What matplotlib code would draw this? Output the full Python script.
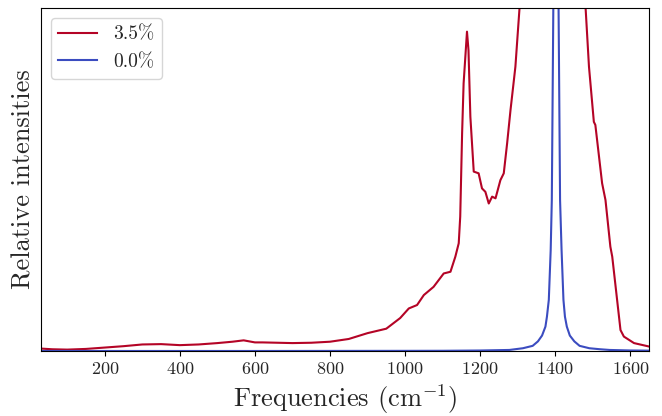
import matplotlib
matplotlib.use("Agg")
import matplotlib.pyplot as plt

plt.rcParams['font.family'] = ['cmr10', 'DejaVu Serif']
plt.rcParams['mathtext.fontset'] = 'cm'
plt.rcParams['axes.formatter.use_mathtext'] = True

# Red series (3.5%)
red_freq = [30, 60, 100, 150, 200, 250, 300, 350, 400, 450, 500, 540, 570, 600, 620,
            700, 750, 800, 850, 900, 950, 987, 1010, 1032, 1050, 1076, 1094, 1103,
            1121, 1134, 1143, 1147, 1152, 1156, 1165, 1169, 1174, 1183, 1196, 1205,
            1214, 1223, 1232, 1241, 1254, 1263, 1272, 1281, 1290, 1294, 1299, 1305,
            1330, 1360, 1400, 1440, 1470, 1481, 1490, 1503, 1507, 1525, 1534, 1547,
            1552, 1574, 1583, 1610, 1650]
red_vals = [0.007, 0.005, 0.004, 0.006, 0.010, 0.014, 0.019, 0.020, 0.017, 0.019,
            0.023, 0.027, 0.031, 0.025, 0.025, 0.023, 0.024, 0.027, 0.035, 0.052,
            0.065, 0.096, 0.124, 0.134, 0.163, 0.187, 0.213, 0.226, 0.231, 0.275,
            0.314, 0.392, 0.635, 0.780, 0.931, 0.877, 0.683, 0.523, 0.518, 0.474,
            0.464, 0.430, 0.450, 0.445, 0.498, 0.518, 0.606, 0.703, 0.790, 0.829,
            0.907, 1.000, 1.35, 1.85, 2.20, 1.85, 1.20, 1.000, 0.829, 0.668, 0.659,
            0.489, 0.440, 0.304, 0.275, 0.061, 0.042, 0.023, 0.013]

# Blue series (0.0%)
blue_freq = [30, 200, 400, 600, 800, 1000, 1100, 1200, 1278, 1314, 1340, 1354, 1365,
             1374, 1378, 1383, 1388, 1391, 1395, 1398, 1402, 1406, 1409, 1413, 1417,
             1422, 1426, 1431, 1439, 1451, 1465, 1491, 1520, 1545, 1600, 1650]
blue_vals = [0.000, 0.000, 0.000, 0.000, 0.0002, 0.0004, 0.0006, 0.0014, 0.003,
             0.008, 0.015, 0.028, 0.045, 0.071, 0.10, 0.149, 0.294, 0.44, 1.0, 2.5,
             6.0, 2.5, 1.0, 0.44, 0.294, 0.149, 0.10, 0.071, 0.045, 0.028, 0.015,
             0.008, 0.005, 0.003, 0.0015, 0.001]

labels = ['3.5%', '0.0%']
red_color = '#b40426'
blue_color = '#3b4cc0'
text_color = '#262626'

fig = plt.figure(figsize=(6.62, 4.16), dpi=100)
ax = fig.add_axes([0.0619, 0.1563, 0.9185, 0.8245])
ax.plot(red_freq, red_vals, color=red_color, lw=1.5, label=labels[0])
ax.plot(blue_freq, blue_vals, color=blue_color, lw=1.5, label=labels[1])
ax.set_xlim(30, 1650)
ax.set_ylim(0, 1.0)
ax.set_yticks([])
ax.set_xticks([200, 400, 600, 800, 1000, 1200, 1400, 1600])
ax.tick_params(axis='x', labelsize=13, labelcolor=text_color)
ax.set_xlabel(r'Frequencies (cm$^{-1}$)', fontsize=19, labelpad=4, color=text_color)
ax.set_ylabel('Relative intensities', fontsize=19, labelpad=4, color=text_color)
leg = ax.legend(loc='upper left', fontsize=14, frameon=True)
for t in leg.get_texts():
    t.set_color(text_color)
fig.savefig('out.png', dpi=100)
